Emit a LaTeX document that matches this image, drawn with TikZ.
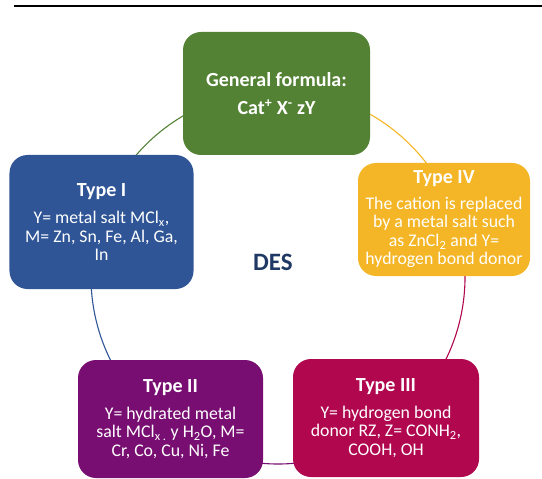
\documentclass[tikz,border=0pt]{standalone}
\usepackage{fontspec}
\setmainfont{Carlito}
\definecolor{cgreen}{HTML}{548235}
\definecolor{cblue}{HTML}{2F5597}
\definecolor{cyellow}{HTML}{F4B626}
\definecolor{cpurple}{HTML}{780E72}
\definecolor{ccrimson}{HTML}{B0074F}
\definecolor{cdes}{HTML}{1F3864}
\tikzset{
  typebox/.style={rounded corners=18bp, text=white, align=center, inner sep=0pt,
    font=\fontsize{17.8bp}{18.5bp}\selectfont},
  ring/.style={line width=1.1bp},
}
\newcommand{\ttl}[1]{{\fontsize{20bp}{22bp}\selectfont\bfseries #1}}
\begin{document}
\begin{tikzpicture}[x=1bp,y=-1bp]
\useasboundingbox (0,0) rectangle (542,479);
\draw[line width=2.2bp] (14,6) coordinate (l1) -- (542,6) coordinate (l2);
% ring
\coordinate (c) at (278,277);
\path (c) ++(-163:187) coordinate (pb);
\path (c) ++(-90:187) coordinate (pg);
\path (c) ++(-233:187) coordinate (pp);
\path (c) ++(-307:187) coordinate (pc);
\path (c) ++(-19:187) coordinate (py);
\draw[ring, cgreen] (pg) arc[start angle=-90, end angle=-163, radius=187];
\draw[ring, cblue] (pb) arc[start angle=-163, end angle=-233, radius=187];
\draw[ring, cpurple] (pp) arc[start angle=-233, end angle=-307, radius=187];
\draw[ring, ccrimson] (pc) arc[start angle=-307, end angle=-379, radius=187];
\draw[ring, cyellow] (py) arc[start angle=-19, end angle=-90, radius=187];
% boxes
\node[typebox, fill=cgreen, minimum width=187bp, minimum height=123bp] (gen) at (276.5,93.5)
  {\ttl{General formula:}\\[10bp]\ttl{Cat\textsuperscript{+} X\textsuperscript{-} zY}};
\node[typebox, fill=cblue, minimum width=184bp, minimum height=134bp] (t1) at (101.5,222)
  {\ttl{Type I}\\[9bp]Y= metal salt MCl\textsubscript{x},\\M= Zn, Sn, Fe, Al, Ga,\\In};
\node[typebox, fill=cyellow, minimum width=172bp, minimum height=113bp] (t4) at (444,219.5)
  {\ttl{Type IV}\\[7bp]The cation is replaced\\by a metal salt such\\as ZnCl\textsubscript{2} and Y=\\hydrogen bond donor};
\node[typebox, fill=cpurple, minimum width=185bp, minimum height=118bp] (t2) at (170.5,419)
  {\ttl{Type II}\\[8bp]Y= hydrated metal\\salt MCl\textsubscript{x .} y H\textsubscript{2}O, M=\\Cr, Co, Cu, Ni, Fe};
\node[typebox, fill=ccrimson, minimum width=186bp, minimum height=118bp] (t3) at (386,418)
  {\ttl{Type III}\\[8bp]Y= hydrogen bond\\donor RZ, Z= CONH\textsubscript{2},\\COOH, OH};
\node[text=cdes, font=\fontsize{25bp}{28bp}\selectfont\bfseries] (des) at (273,262) {DES};
\end{tikzpicture}
\end{document}
